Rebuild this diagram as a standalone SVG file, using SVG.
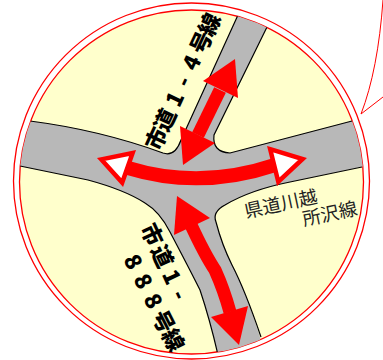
<svg xmlns="http://www.w3.org/2000/svg" width="383" height="360" viewBox="0 0 383 360">
<style>
.road{fill:none;stroke:#000;stroke-width:1.2}
.shaft{fill:none;stroke:#f00;stroke-width:13}
.head{fill:#f00}
.tri{fill:#fff;stroke:#f00;stroke-width:4.5}
.b{font-family:"Noto Sans CJK JP","Liberation Sans",sans-serif;font-weight:900;font-size:22px;fill:#000}
.r{font-family:"Noto Sans CJK JP","Liberation Sans",sans-serif;font-size:18.5px;fill:#222}
</style>
<defs><clipPath id="c"><circle cx="191.5" cy="182" r="172"/></clipPath></defs>
<rect width="383" height="360" fill="#fff"/>
<g id="circle">
<circle cx="191.5" cy="181" r="178" fill="#fff" stroke="#f00" stroke-width="1.3"/>
<circle cx="191.5" cy="182" r="172" fill="#ffc" stroke="#f00" stroke-width="1.3"/>
</g>
<g id="roads" clip-path="url(#c)">
<path fill="#b8b8b8" d="M238 15L181 140Q175 157 163 153Q100 130 30 121L10 118V164L88 180Q125 190 145 203Q160 212 170 232Q190 270 200 290Q210 320 218 355H262L260 337Q245 290 232 265Q222 245 216 222Q212 212 225 205Q250 190 290 182L370 165V118L352 121L230 153Q212 152 214 135L268 25Z"/>
<path class="road" d="M238 15L181 140Q175 157 163 153Q100 130 30 121"/>
<path class="road" d="M268 25L214 135Q212 152 230 153L352 121"/>
<path class="road" d="M20 166L88 180Q125 190 145 203Q160 212 170 232Q190 270 200 290Q210 320 218 355"/>
<path class="road" d="M362 167L290 182Q250 190 225 205Q212 212 216 222Q222 245 232 265Q245 290 261 337"/>
</g>
<g id="connectors">
<path d="M383 0Q378 70 361 114L383 97" fill="none" stroke="#f00" stroke-width="1"/>
<path class="shaft" d="M220 90L198 135"/>
<path class="head" d="M235 59L238 98L203 81Z"/>
<path class="head" d="M183 165L180 126L215 143Z"/>
<path class="shaft" d="M128 168Q200 190 275 165" style="stroke-width:14"/>
<path class="tri" d="M101.300 159.400L132.600 153L122.200 182.600Z"/>
<path class="tri" d="M270.200 149.200L302.600 159L278.300 181.700Z"/>
<path class="shaft" d="M191 225Q205 255 215 270Q224 290 230 312"/>
<path class="head" d="M177 196L210 218L174 235Z"/>
<path class="head" d="M239 345L211 317L248 306Z"/>
</g>
<g id="label-top"><text class="b" transform="translate(159 152) rotate(-65)" x="0 20.600 48 70 88 106 126">市道1-4号線</text></g>
<g id="label-bottom">
<text class="b" transform="translate(140 228) rotate(65)" x="0 24 51 73">市道1-</text>
<text class="b" transform="translate(123 259.500) rotate(63)" x="0 22 44 62.500 83.500">888号線</text>
</g>
<g id="label-right">
<text class="r" transform="translate(246 218) rotate(-12)">県道川越</text>
<text class="r" transform="translate(304 226) rotate(-12)">所沢線</text>
</g>
</svg>
